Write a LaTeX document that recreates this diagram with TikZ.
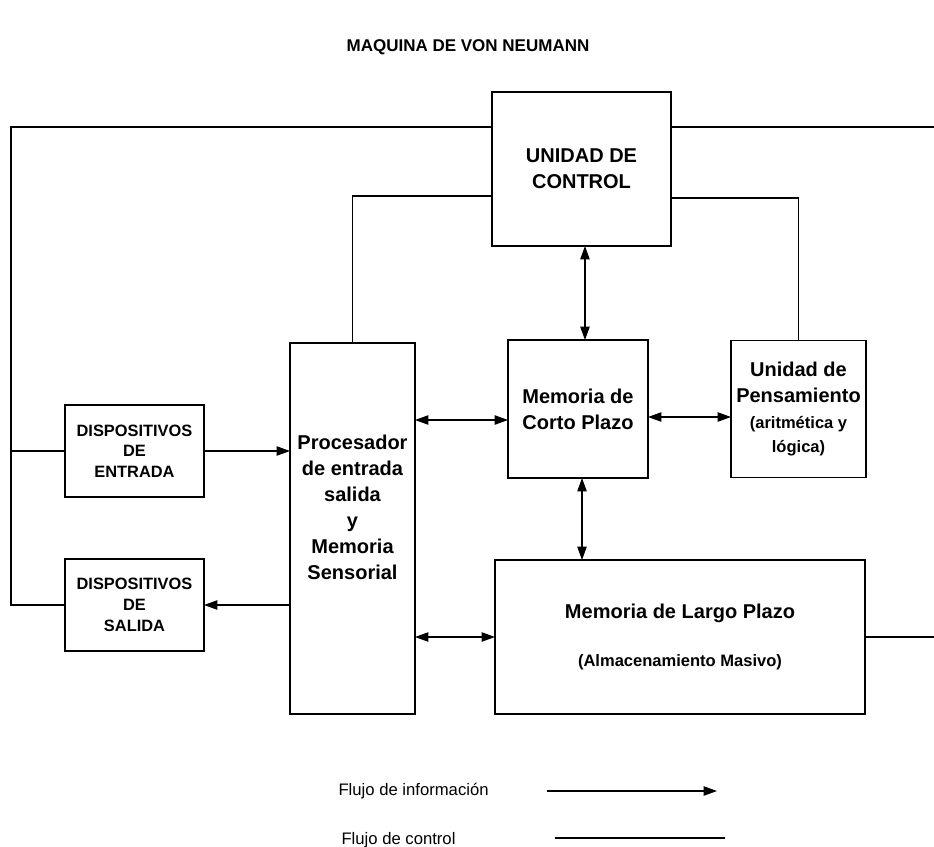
\documentclass[tikz,border=0pt]{standalone}
\usepackage{fontspec}
\setmainfont{Liberation Sans}
\usetikzlibrary{arrows.meta,positioning}
\tikzset{
    %Define standard arrow tip
    >={Triangle[length=10pt,width=7pt]},
    %Define style for boxes
    block/.style={
           rectangle,
           draw=black, line width=0.8pt,
           inner sep=0pt,
           outer sep=0pt,
           align=center,
           font=\bfseries\fontsize{15}{19.5}\selectfont},
    device/.style={
           block,
           minimum width=104.25pt,
           minimum height=69pt,
           font=\bfseries\fontsize{12.3}{15.5}\selectfont},
    % Define arrow style
    pil/.style={
           <->,
           line width=0.8pt}
}
\newcommand{\subtext}{\fontsize{12.4}{15}\selectfont}

\begin{document}
\begin{tikzpicture}[x=0.75pt,y=-0.75pt,line width=0.8pt,
  legend/.style={font=\fontsize{12.5}{15}\selectfont, anchor=west, inner sep=0pt}]
\useasboundingbox (0,0) rectangle (934,846);
 %nodes
\node[font=\bfseries\fontsize{12.75}{15}\selectfont] (title) at (468,47) {MAQUINA DE VON NEUMANN};
\node[block, minimum width=134.25pt, minimum height=115.5pt] (uc) at (581.5,169) {UNIDAD DE\\CONTROL};
\node[block, minimum width=105pt, minimum height=103.5pt] (corto) at (578,409) {Memoria de\\Corto Plazo};
\node[block, minimum width=101.25pt, minimum height=102.75pt, right=62.25pt of corto] (pens) {Unidad de\\Pensamiento\\\subtext (aritmética y\\[-1pt]\subtext lógica)};
\node[block, minimum width=93.75pt, minimum height=278.25pt,
  label={[block, draw=none, yshift=16pt]center:{Procesador\\de entrada\\salida\\y\\Memoria\\Sensorial}}] (proc) at (352.5,528.5) {};
\node[device] (entrada) at (134.5,451) {DISPOSITIVOS\\DE\\ENTRADA};
\node[device] (salida) at (134.5,605) {DISPOSITIVOS\\DE\\SALIDA};
\node[block, minimum width=277.5pt, minimum height=115.5pt] (largo) at (680,637) {Memoria de Largo Plazo\\[16pt]\subtext (Almacenamiento Masivo)};
 %legend
\node[legend] (info) at (338,791) {Flujo de información};
\node[legend] (control) at (341,840) {Flujo de control};
\coordinate (ia) at (547,791);
\coordinate (ib) at (717,791);
\coordinate (ca) at (555,838);
\coordinate (cb) at (725,838);
\coordinate (tl) at (11,127);
\coordinate (tr) at (934,127);
 %control lines
\draw (uc.west |- tl) -- (tl) |- (salida.west);
\draw (tl |- entrada.west) -- (entrada.west);
\draw (uc.east |- tl) -- (tr);
\draw ([yshift=-20.25pt]uc.west) -| (proc.north);
\draw ([yshift=-21.75pt]uc.east) -| (pens.north);
\draw (largo.east) -- (largo.east -| tr);
 %information flow
\draw[->] (entrada.east) -- (proc.west |- entrada.east);
\draw[->] (proc.west |- salida.east) -- (salida.east);
\draw[pil] ([xshift=2.6pt]uc.south) -- ([xshift=2.6pt]uc.south |- corto.north);
\draw[pil] ([yshift=-6pt]corto.east) -- ([yshift=-6pt]corto.east -| pens.west);
\draw[pil] ([yshift=-8.25pt]corto.west -| proc.east) -- ([yshift=-8.25pt]corto.west);
\draw[pil] ([xshift=3pt]corto.south) -- ([xshift=3pt]corto.south |- largo.north);
\draw[pil] (proc.east |- largo.west) -- (largo.west);
\draw[->] (ia) -- (ib);
\draw (ca) -- (cb);
\end{tikzpicture}
\end{document}
